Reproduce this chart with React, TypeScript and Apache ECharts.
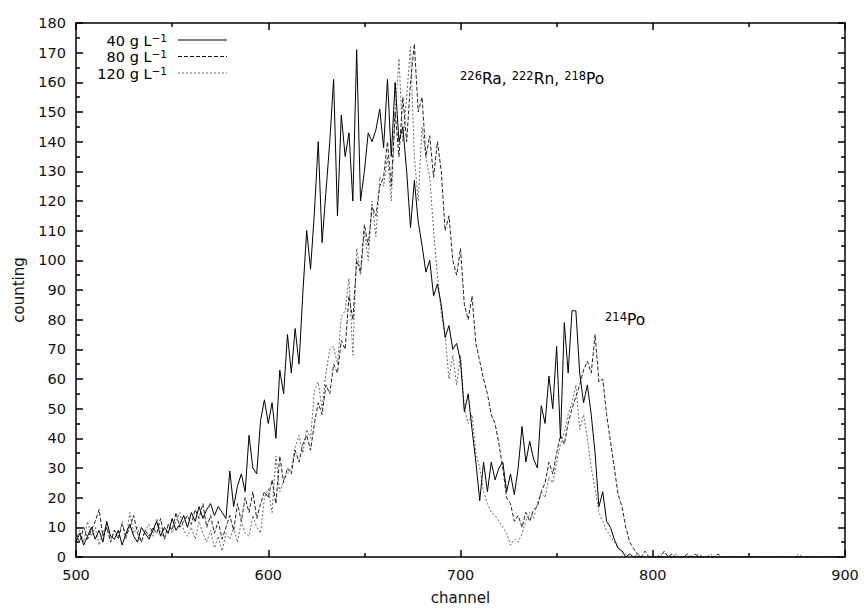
import React, { useEffect, useRef } from 'react';
import * as echarts from 'echarts';

// Sampling grid of the spectra (channel of first value and spacing between values)
const channelStart = 500;
const channelStep = 2;

// 40 g L-1 (solid)
const counts40 = [
  5, 8, 4, 7, 10, 6, 9, 5, 12, 7,
  6, 9, 4, 8, 11, 7, 5, 10, 8, 6,
  9, 12, 7, 10, 8, 13, 9, 11, 14, 10,
  15, 12, 17, 13, 16, 18, 14, 17, 15, 13,
  29, 17, 24, 28, 22, 41, 30, 28, 46, 53,
  45, 52, 40, 63, 55, 75, 62, 77, 65, 89,
  110, 97, 116, 140, 106, 123, 140, 161, 115, 149,
  135, 143, 120, 171, 120, 130, 143, 140, 144, 151,
  138, 161, 135, 160, 140, 145, 130, 111, 127, 113,
  105, 96, 100, 88, 92, 85, 74, 78, 70, 72,
  66, 49, 55, 43, 32, 19, 32, 22, 32, 26,
  30, 32, 22, 28, 21, 30, 44, 32, 39, 33,
  30, 51, 45, 61, 50, 71, 40, 79, 62, 83,
  83, 62, 52, 58, 48, 35, 17, 22, 12, 10,
  6, 3, 2, 0, 1, 0, 0, 0, 0, 0,
  0, 0, 0, 0, 0, 0, 0, 0, 0, 0,
  0, 0, 0, 0, 0, 0, 0, 0, 0, 0,
  0, 0, 0, 0, 0, 0, 0, 0, 0, 0,
  0, 0, 0, 0, 0, 0, 0, 0, 0, 0,
  0, 0, 0, 0, 0, 0, 0, 0, 0, 0,
  0,
];

// 80 g L-1 (dashed)
const counts80 = [
  8, 5, 10, 6, 9, 12, 16, 7, 10, 5,
  9, 6, 11, 7, 10, 14, 8, 5, 9, 7,
  10, 8, 13, 6, 11, 9, 15, 10, 12, 14,
  11, 16, 13, 18, 10, 14, 8, 12, 6, 10,
  14, 9, 18, 12, 20, 15, 22, 13, 18, 22,
  20, 26, 18, 34, 25, 30, 28, 36, 32, 38,
  41, 36, 45, 52, 48, 58, 55, 65, 62, 73,
  70, 88, 80, 100, 96, 112, 105, 118, 115, 125,
  128, 140, 125, 150, 135, 155, 140, 160, 173, 150,
  155, 135, 142, 128, 140, 130, 110, 115, 100, 95,
  104, 85, 80, 88, 72, 66, 60, 55, 48, 45,
  38, 30, 20, 18, 12, 14, 10, 15, 12, 16,
  17, 22, 25, 32, 28, 35, 41, 38, 45, 50,
  54, 58, 63, 66, 62, 75, 59, 60, 48, 39,
  30, 21, 17, 10, 5, 3, 1, 0, 2, 0,
  0, 0, 0, 2, 0, 1, 0, 0, 0, 1,
  0, 1, 0, 0, 0, 0, 0, 1, 0, 0,
  0, 0, 0, 0, 0, 0, 0, 0, 0, 0,
  0, 0, 0, 0, 0, 0, 0, 0, 0, 0,
  0, 0, 0, 0, 0, 0, 0, 0, 0, 0,
  0,
];

// 120 g L-1 (dotted)
const counts120 = [
  6, 9, 5, 12, 7, 10, 4, 8, 11, 6,
  9, 7, 12, 6, 15, 8, 10, 5, 9, 11,
  7, 13, 9, 6, 11, 8, 12, 15, 9, 7,
  10, 6, 12, 8, 5, 9, 3, 7, 2, 8,
  6, 10, 5, 12, 8, 7, 14, 10, 8, 20,
  23, 15, 34, 22, 26, 28, 30, 37, 41, 35,
  43, 40, 56, 59, 50, 62, 70, 71, 65, 81,
  83, 94, 68, 104, 95, 110, 100, 120, 108, 128,
  125, 135, 120, 150, 168, 140, 155, 172, 135, 120,
  145, 135, 128, 110, 95, 82, 75, 60, 68, 58,
  68, 50, 45, 48, 35, 30, 22, 18, 15, 14,
  12, 10, 8, 4, 6, 5, 8, 12, 15, 13,
  18, 22, 20, 27, 25, 32, 38, 42, 48, 52,
  58, 43, 48, 40, 30, 23, 15, 12, 9, 7,
  5, 3, 2, 1, 0, 0, 1, 0, 0, 0,
  0, 0, 1, 0, 0, 0, 1, 0, 0, 0,
  0, 0, 1, 0, 0, 1, 0, 0, 0, 0,
  0, 0, 0, 0, 0, 0, 0, 0, 0, 0,
  0, 0, 0, 0, 0, 0, 0, 0, 1, 0,
  0, 0, 0, 0, 0, 0, 0, 0, 0, 0,
  0,
];

const legendLabels = ['40 g L{sup|−1}', '80 g L{sup|−1}', '120 g L{sup|−1}'];
const peakLabel1 = '{sup|226}Ra, {sup|222}Rn, {sup|218}Po';
const peakLabel2 = '{sup|214}Po';

const FONT = '"DejaVu Sans", "Liberation Sans", Arial, sans-serif';

export default function App() {
  const ref = useRef<HTMLDivElement>(null);
  useEffect(() => {
    document.body.style.margin = '0';
    const chart = echarts.init(ref.current!, null, { renderer: 'svg' });
    const toPairs = (vals: number[]) => vals.map((v, i) => [channelStart + i * channelStep, v]);

    const mkAxisLine = () => ({ show: true, onZero: false, lineStyle: { color: '#000', width: 1.5 } });
    const mkAxisTick = () => ({ show: true, inside: true, length: 7, lineStyle: { color: '#000', width: 1.5 } });
    const mkMinorTick = () => ({ show: true, splitNumber: 2, length: 4, lineStyle: { color: '#000', width: 1.5 } });
    const axisLabel = { color: '#111', fontSize: 14.5, fontFamily: FONT, margin: 10 };

    const richLegend = {
      n: { fontSize: 14.5, fontFamily: FONT, color: '#111', lineHeight: 16, verticalAlign: 'bottom' },
      sup: { fontSize: 10.5, fontFamily: FONT, color: '#111', lineHeight: 10, verticalAlign: 'top' },
    };
    const richBig = {
      n: { fontSize: 15.5, fontFamily: FONT, color: '#111', lineHeight: 17, verticalAlign: 'bottom' },
      sup: { fontSize: 11.5, fontFamily: FONT, color: '#111', lineHeight: 11, verticalAlign: 'top' },
    };
    const richLabel = (s: string) =>
      s.split(/(\{sup\|[^}]*\})/).filter((p) => p.length).map((p) => (p.startsWith('{sup|') ? p : `{n|${p}}`)).join('');

    const legendY = [40, 56.5, 73];
    const legendStyles = [
      { color: '#000', lineDash: null as any },
      { color: '#111', lineDash: [4, 2] },
      { color: '#666', lineDash: [2, 2] },
    ];
    const graphic: any[] = [];
    legendLabels.forEach((lab, i) => {
      graphic.push({
        type: 'text',
        right: 864 - 167,
        top: legendY[i] - 8,
        style: { text: richLabel(lab), rich: richLegend, align: 'right' },
      });
      graphic.push({
        type: 'line',
        shape: { x1: 178, y1: legendY[i], x2: 227, y2: legendY[i] },
        style: { stroke: legendStyles[i].color, lineWidth: 1.2, lineDash: legendStyles[i].lineDash },
      });
    });
    graphic.push({
      type: 'text',
      left: 460,
      top: 70,
      style: { text: richLabel(peakLabel1), rich: richBig },
    });
    graphic.push({
      type: 'text',
      left: 605,
      top: 311,
      style: { text: richLabel(peakLabel2), rich: richBig },
    });

    const option: any = {
      animation: false,
      backgroundColor: '#fff',
      grid: { left: 76, right: 19, top: 23, bottom: 51, containLabel: false },
      xAxis: [
        {
          type: 'value', min: 500, max: 900, interval: 100, position: 'bottom',
          axisLine: mkAxisLine(), axisTick: mkAxisTick(), minorTick: mkMinorTick(),
          splitLine: { show: false }, minorSplitLine: { show: false }, axisLabel,
          name: 'channel', nameLocation: 'middle', nameGap: 33,
          nameTextStyle: { color: '#111', fontSize: 15, fontFamily: FONT },
        },
        {
          type: 'value', min: 500, max: 900, interval: 100, position: 'top',
          axisLine: mkAxisLine(), axisTick: mkAxisTick(), minorTick: mkMinorTick(),
          splitLine: { show: false }, axisLabel: { show: false },
        },
      ],
      yAxis: [
        {
          type: 'value', min: 0, max: 180, interval: 10, position: 'left',
          axisLine: mkAxisLine(), axisTick: mkAxisTick(), minorTick: mkMinorTick(),
          splitLine: { show: false }, axisLabel,
          name: 'counting', nameLocation: 'middle', nameGap: 50, nameRotate: 90,
          nameTextStyle: { color: '#111', fontSize: 15, fontFamily: FONT },
        },
        {
          type: 'value', min: 0, max: 180, interval: 10, position: 'right',
          axisLine: mkAxisLine(), axisTick: mkAxisTick(), minorTick: mkMinorTick(),
          splitLine: { show: false }, axisLabel: { show: false },
        },
      ],
      series: [
        {
          name: '120 g L-1', type: 'line', data: toPairs(counts120), showSymbol: false,
          lineStyle: { color: '#666', width: 1, type: [2, 2] }, z: 2,
        },
        {
          name: '80 g L-1', type: 'line', data: toPairs(counts80), showSymbol: false,
          lineStyle: { color: '#222', width: 1, type: [4, 2] }, z: 3,
        },
        {
          name: '40 g L-1', type: 'line', data: toPairs(counts40), showSymbol: false,
          lineStyle: { color: '#000', width: 1 }, z: 4,
        },
      ],
      graphic,
    };
    chart.setOption(option);
    return () => chart.dispose();
  }, []);
  return <div ref={ref} style={{ width: 864, height: 610 }} />;
}
